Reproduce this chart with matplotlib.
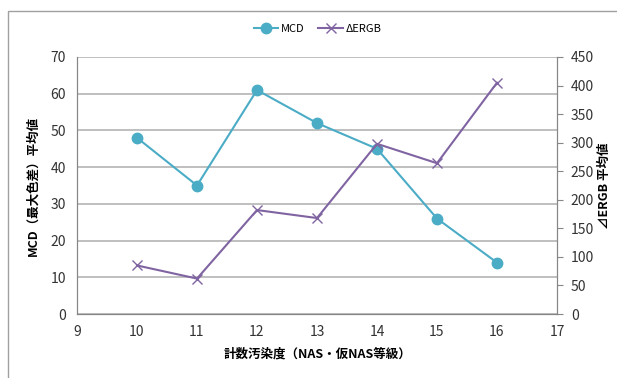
import matplotlib.pyplot as plt
from matplotlib.patches import Rectangle

plt.rcParams['font.family'] = ['Noto Sans CJK JP', 'DejaVu Sans']

nas_class = [10, 11, 12, 13, 14, 15, 16]
mcd = [48, 35, 61, 52, 45, 26, 14]
ergb = [85, 62, 182, 168, 298, 264, 405]

mcd_color = '#4BACC6'
ergb_color = '#8064A2'
axis_gray = '#868686'
grid_gray = '#B4B4B4'

fig = plt.figure(figsize=(6.17, 3.78), dpi=100)
# chart frame, runs off the right and bottom edges
fig.patches.append(Rectangle((8 / 617, -20 / 378), 640 / 617, 387 / 378,
                             transform=fig.transFigure, fill=False,
                             edgecolor='#A0A0A0', linewidth=1.0))

ax = fig.add_axes([77 / 617, 1 - 314 / 378, 480 / 617, 257 / 378])
ax2 = ax.twinx()

l1, = ax.plot(nas_class, mcd, color=mcd_color, lw=1.5, marker='o', ms=7.5,
              label='MCD')
l2, = ax2.plot(nas_class, ergb, color=ergb_color, lw=1.5, marker='x', ms=7,
               mew=1.0, label='ΔERGB')

ax.set_xlim(9, 17)
ax.set_ylim(0, 70)
ax2.set_ylim(0, 450)
ax.set_xticks(range(9, 18))
ax.set_yticks(range(0, 71, 10))
ax2.set_yticks(range(0, 451, 50))

ax.yaxis.grid(True, color=grid_gray, lw=1.2)
ax.set_axisbelow(True)

for a in (ax, ax2):
    a.spines['top'].set_visible(False)
    for s in ('left', 'bottom', 'right'):
        a.spines[s].set_color(axis_gray)
ax.tick_params(axis='both', length=0, labelsize=10, pad=8, colors='#333333')
ax2.tick_params(axis='y', length=4, color=axis_gray, labelsize=10, pad=6,
                labelcolor='#333333')

ax.set_ylabel('MCD（最大色差）平均値', fontsize=9, fontweight='bold', labelpad=8)
ax2.set_ylabel('⊿ERGB 平均値', fontsize=9, fontweight='bold', rotation=90,
               labelpad=3)
ax.set_xlabel('計数汚染度（NAS・仮NAS等級）', fontsize=9, fontweight='bold',
              labelpad=6)

fig.legend(handles=[l1, l2], loc='center', bbox_to_anchor=(0.515, 1 - 29 / 378),
           ncol=2, frameon=False, fontsize=8, handlelength=2.2,
           columnspacing=1.2, handletextpad=0.3)

fig.savefig('out.png', dpi=100)
